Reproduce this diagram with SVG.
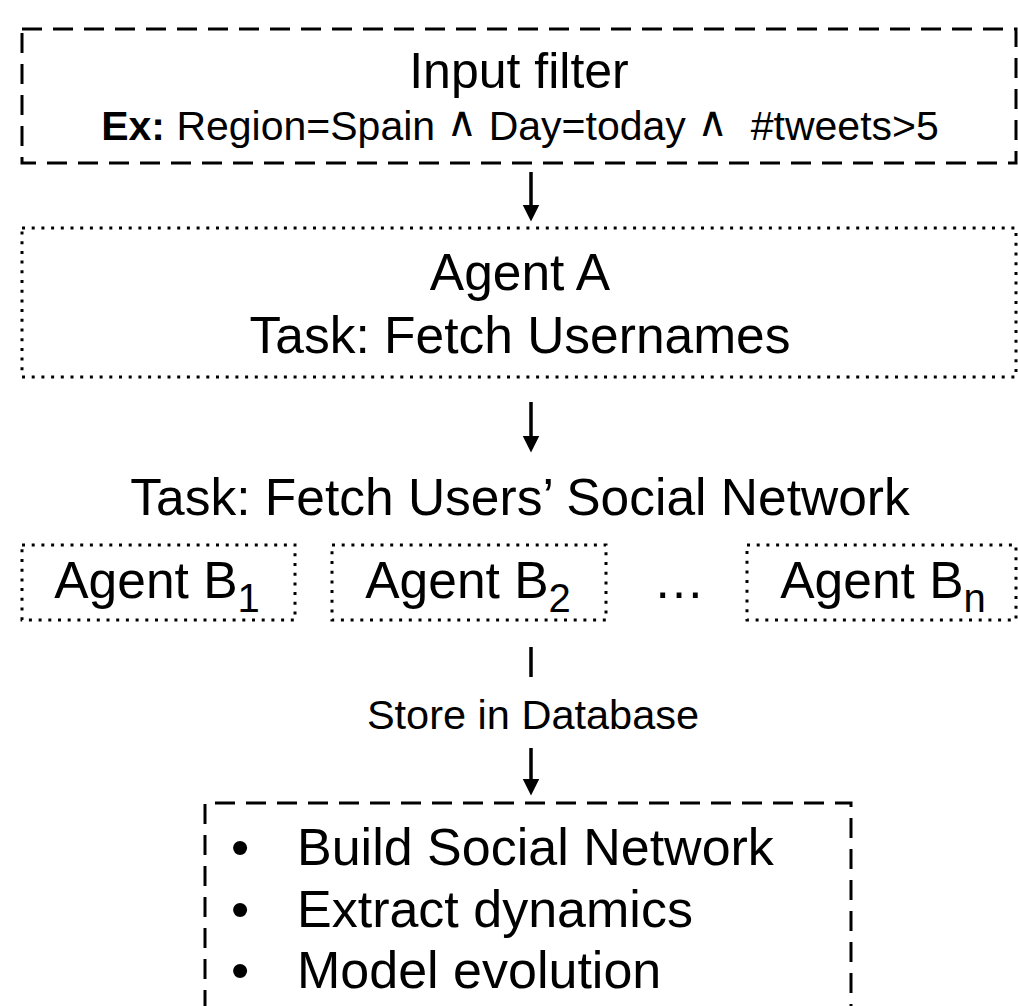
<svg xmlns="http://www.w3.org/2000/svg" width="1018" height="1006" viewBox="0 0 1018 1006">
<style>
  text { font-family: "Liberation Sans", Arial, sans-serif; fill: #000; }
  .dash { fill: none; stroke: #000; stroke-width: 3; stroke-dasharray: 20 11; }
  .dot { fill: none; stroke: #000; stroke-width: 3; stroke-dasharray: 3 6.7; }
  .big { font-size: 51.5px; text-anchor: middle; }
  .conn { stroke: #000; stroke-width: 3.5; fill: none; }
  .and { font-family: "DejaVu Sans", sans-serif; font-weight: normal; font-size: 42px; }
</style>
<defs>
  <marker id="ah" markerUnits="userSpaceOnUse" markerWidth="18" markerHeight="18" refX="0.5" refY="8.5" orient="auto" viewBox="0 0 18 17">
    <path d="M0,0 L17,8.5 L0,17 z" fill="#000"/>
  </marker>
</defs>
<rect width="1018" height="1006" fill="#fff"/>

<g id="input-filter">
  <rect class="dash" x="22" y="29" width="994" height="134"/>
  <text x="519" y="88" font-size="50" text-anchor="middle">Input filter</text>
  <text x="520" y="140" font-size="41" text-anchor="middle" xml:space="preserve"><tspan font-weight="bold">Ex:</tspan> Region=Spain <tspan class="and" dy="-4">∧</tspan><tspan dy="4"> Day=today </tspan><tspan class="and" dy="-4">∧</tspan><tspan dy="4">  #tweets&gt;5</tspan></text>
</g>

<g id="agent-a">
  <rect class="dot" x="22" y="228" width="994" height="149"/>
  <text class="big" x="520" y="290">Agent A</text>
  <text class="big" x="520" y="353">Task: Fetch Usernames</text>
</g>

<g id="task-b">
  <text class="big" x="520" y="515">Task: Fetch Users’ Social Network</text>
</g>

<g id="agent-b1">
  <rect class="dot" x="22" y="545" width="273" height="75"/>
  <text class="big" x="157" y="598">Agent B<tspan font-size="40" dy="14">1</tspan></text>
</g>

<g id="agent-b2">
  <rect class="dot" x="332" y="545" width="274" height="75"/>
  <text class="big" x="468" y="598">Agent B<tspan font-size="40" dy="14">2</tspan></text>
</g>

<g id="ellipsis">
  <text class="big" x="679" y="598">…</text>
</g>

<g id="agent-bn">
  <rect class="dot" x="747" y="545" width="269" height="75"/>
  <text class="big" x="883" y="598">Agent B<tspan font-size="40" dy="14">n</tspan></text>
</g>

<g id="results">
  <path class="dash" d="M205,1010 V803 H851 V1010"/>
  <text x="240" y="865" font-size="52" text-anchor="middle">•</text>
  <text x="297" y="865" font-size="52">Build Social Network</text>
  <text x="240" y="927" font-size="52" text-anchor="middle">•</text>
  <text x="297" y="927" font-size="52">Extract dynamics</text>
  <text x="240" y="988" font-size="52" text-anchor="middle">•</text>
  <text x="297" y="988" font-size="52">Model evolution</text>
</g>

<g id="connectors">
  <line class="conn" x1="531" y1="172" x2="531" y2="205" marker-end="url(#ah)"/>
  <line class="conn" x1="531" y1="402" x2="531" y2="436" marker-end="url(#ah)"/>
  <line class="conn" x1="531" y1="647" x2="531" y2="677"/>
  <text x="533" y="729" font-size="41.5" text-anchor="middle">Store in Database</text>
  <line class="conn" x1="531" y1="748" x2="531" y2="779" marker-end="url(#ah)"/>
</g>
</svg>
